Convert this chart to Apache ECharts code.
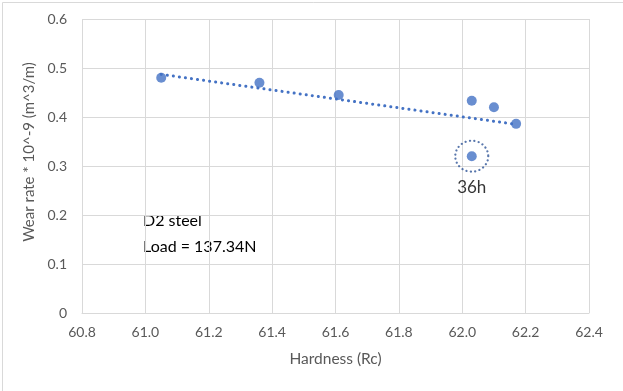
<!DOCTYPE html>
<html>
<head>
<meta charset="utf-8">
<script src="https://cdn.jsdelivr.net/npm/echarts@6/dist/echarts.min.js"></script>
<style>html,body{margin:0;padding:0;background:#fff;}#c{width:623px;height:391px;}</style>
</head>
<body>
<div id="c"></div>
<script>
// Data
const hardness = [61.05, 61.36, 61.61, 62.03, 62.10, 62.17];
const wearRate = [0.480, 0.470, 0.445, 0.433, 0.420, 0.386];
const outlierX = [62.03];
const outlierY = [0.320];
const outlierLabel = ['36h'];
const trendX = [61.05, 62.17];
const trendY = [0.487, 0.385];
const xTicks = ['60.8','61.0','61.2','61.4','61.6','61.8','62.0','62.2','62.4'];
const noteLines = ['D2 steel', 'Load = 137.34N'];

const FONT = 'Lato';
const chart = echarts.init(document.getElementById('c'), null, {renderer: 'canvas'});
const pts = hardness.map((x, i) => [x, wearRate[i]]);
const outPts = outlierX.map((x, i) => [x, outlierY[i]]);
const trend = trendX.map((x, i) => [x, trendY[i]]);

chart.setOption({
  backgroundColor: '#fff',
  animation: false,
  grid: {left: 82, right: 34, top: 19, bottom: 78},
  xAxis: {
    type: 'value', min: 60.8, max: 62.4, interval: 0.2,
    name: 'Hardness (Rc)', nameLocation: 'middle', nameGap: 38,
    nameTextStyle: {color: '#595959', fontSize: 15.5, fontFamily: FONT},
    axisLine: {show: true, lineStyle: {color: '#d9d9d9', width: 1}},
    axisTick: {show: false},
    axisLabel: {color: '#595959', fontSize: 14, fontFamily: FONT, margin: 12,
      formatter: v => { const i = Math.round((v - 60.8) / 0.2); return xTicks[i] !== undefined ? xTicks[i] : v.toFixed(1); }},
    splitLine: {show: true, lineStyle: {color: '#d9d9d9', width: 1}}
  },
  yAxis: {
    type: 'value', min: 0, max: 0.6, interval: 0.1,
    axisLine: {show: false},
    axisTick: {show: false},
    axisLabel: {color: '#595959', fontSize: 14, fontFamily: FONT, margin: 15,
      formatter: v => (Math.round(v * 10) / 10).toString()},
    splitLine: {show: true, lineStyle: {color: '#d9d9d9', width: 1}}
  },
  series: [
    {
      type: 'line', data: trend, symbol: 'none', silent: true, z: 2,
      lineStyle: {color: '#4472C4', width: 3, type: [0.1, 6], cap: 'round'}
    },
    {
      type: 'scatter', data: pts, symbol: 'circle', symbolSize: 10, z: 3,
      itemStyle: {color: '#4472C4'}
    },
    {
      type: 'scatter', data: outPts, symbol: 'circle', symbolSize: 10, z: 3,
      itemStyle: {color: '#4472C4'}
    },
    {
      type: 'scatter', data: outPts, symbol: 'circle', symbolSize: [33, 31], z: 4, silent: true,
      itemStyle: {color: 'rgba(0,0,0,0)', borderColor: '#2F5597', borderWidth: 2.2, borderType: [0.1, 4.2], borderCap: 'round'},
      label: {show: true, position: 'bottom', distance: 6,
        formatter: p => outlierLabel[p.dataIndex],
        color: '#000', fontSize: 17, fontFamily: FONT}
    }
  ],
  graphic: [
    {type: 'rect', left: 0, top: 0, shape: {width: 622, height: 390}, style: {fill: 'none', stroke: '#d9d9d9', lineWidth: 1}, silent: true, z: -1, x: 0.5, y: 0.5},
    {type: 'text', x: 29, y: 152, rotation: Math.PI / 2,
      style: {text: 'Wear rate * 10^-9 (m^3/m)', fill: '#595959', font: '15px ' + FONT, textAlign: 'center', textVerticalAlign: 'middle'}},
    {type: 'text', x: 143, y: 221,
      style: {text: noteLines[0], fill: '#000', font: '16px ' + FONT, textAlign: 'left', textVerticalAlign: 'middle'}},
    {type: 'text', x: 143, y: 247,
      style: {text: noteLines[1], fill: '#000', font: '16px ' + FONT, textAlign: 'left', textVerticalAlign: 'middle'}}
  ]
});
</script>
</body>
</html>
